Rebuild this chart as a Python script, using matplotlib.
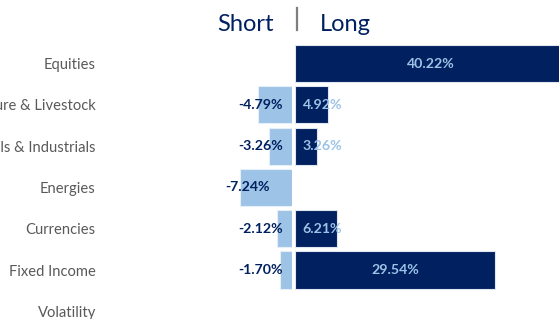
import matplotlib
matplotlib.use("Agg")
import matplotlib.pyplot as plt
from matplotlib.lines import Line2D
import numpy as np

categories = ["Equities", "Agriculture & Livestock", "Metals & Industrials",
              "Energies", "Currencies", "Fixed Income", "Volatility"]
short_vals = [np.nan, -4.79, -3.26, -7.24, -2.12, -1.70, np.nan]
long_vals = [40.22, 4.92, 3.26, np.nan, 6.21, 29.54, np.nan]

NAVY = "#002060"
LIGHT = "#9DC3E6"
GRAY = "#595959"
FONT = "Lato"

W, H = 559, 319
fig = plt.figure(figsize=(W / 100, H / 100), dpi=100)

def fx(px):
    return px / W

def fy(py):
    return 1 - py / H

# axes geometry in pixels
top_px, bot_px = 30, 319
row0, step = 63.5, 41.3
ylo = (top_px - row0) / step
yhi = (bot_px - row0) / step

s_left, s_right = 100, 292
l_left, l_right = 295, 559
s_scale = 7.18
l_scale = 6.77

ax_s = fig.add_axes([fx(s_left), fy(bot_px), fx(s_right - s_left), (bot_px - top_px) / H])
ax_l = fig.add_axes([fx(l_left), fy(bot_px), fx(l_right - l_left), (bot_px - top_px) / H])

y = np.arange(len(categories))
ax_s.barh(y, short_vals, height=0.9, color=LIGHT, edgecolor="#e6eef8", linewidth=0.8)
ax_l.barh(y, long_vals, height=0.9, color=NAVY, edgecolor="#dfe6f0", linewidth=0.8)

ax_s.set_xlim(-(s_right - s_left) / s_scale, 0)
ax_l.set_xlim(0, (l_right - l_left) / l_scale)
for ax in (ax_s, ax_l):
    ax.set_ylim(yhi, ylo)
    for sp in ax.spines.values():
        sp.set_visible(False)
    ax.set_xticks([])

ax_l.set_yticks([])
ax_s.set_yticks(y)
ax_s.set_yticklabels(categories, fontsize=10.6, color=GRAY, family=FONT)
ax_s.tick_params(axis="y", length=0, pad=3)

# value labels
for i, v in enumerate(short_vals):
    if np.isnan(v):
        continue
    xpos = min(v + 1.0, -4.4)
    ax_s.text(xpos, i, f"{v:.2f}%", ha="center", va="center", fontsize=10.2,
              fontweight="bold", color=NAVY, family=FONT)
for i, v in enumerate(long_vals):
    if np.isnan(v):
        continue
    if v > 10:
        ax_l.text(v / 2, i, f"{v:.2f}%", ha="center", va="center", fontsize=10.2,
                  fontweight="bold", color=LIGHT, family=FONT, clip_on=False)
    else:
        ax_l.text(1.15, i, f"{v:.2f}%", ha="left", va="center", fontsize=10.2,
                  fontweight="bold", color=LIGHT, family=FONT)

# headers
fig.text(fx(274), fy(31), "Short", ha="right", va="baseline", fontsize=17,
         color=NAVY, family=FONT)
fig.text(fx(320), fy(31), "Long", ha="left", va="baseline", fontsize=17,
         color=NAVY, family=FONT)
fig.add_artist(Line2D([fx(296.5), fx(296.5)], [fy(8), fy(30)], color="#7f7f7f",
                      linewidth=1.6, transform=fig.transFigure))

fig.savefig("out.png", dpi=100)
